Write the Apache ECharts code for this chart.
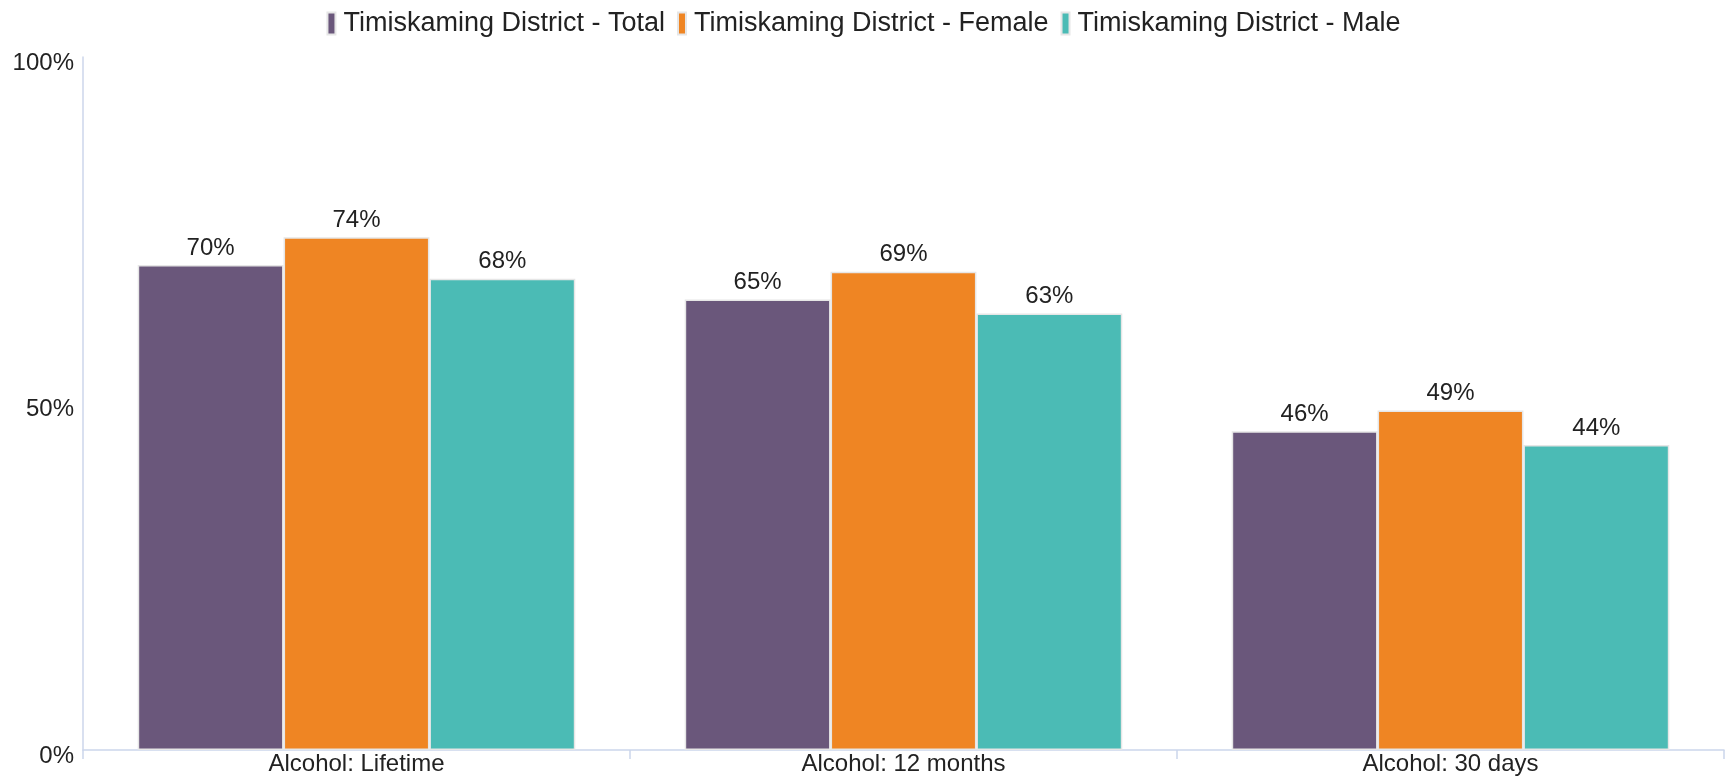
<!DOCTYPE html>
<html>
<head>
<meta charset="utf-8">
<style>
  html, body { margin: 0; padding: 0; background: #fff; }
  #chart { width: 1727px; height: 776px; }
</style>
<script src="https://cdn.jsdelivr.net/npm/echarts@6/dist/echarts.min.js"></script>
</head>
<body>
<div id="chart"></div>
<script>
var categories = ['Alcohol: Lifetime', 'Alcohol: 12 months', 'Alcohol: 30 days'];
var seriesNames = ['Timiskaming District - Total', 'Timiskaming District - Female', 'Timiskaming District - Male'];
var totalValues = [70, 65, 46];
var femaleValues = [74, 69, 49];
var maleValues = [68, 63, 44];
var yTicks = [0, 50, 100];

var colors = ['#6a577b', '#ef8523', '#4bbbb5'];
var font = 'Liberation Sans, Arial, sans-serif';

function makeSeries(name, data, color) {
  return {
    name: name,
    type: 'bar',
    data: data,
    barGap: '0%',
    barCategoryGap: '20%',
    itemStyle: { color: color, borderColor: '#e6e6e6', borderWidth: 1.5 },
    label: {
      show: true,
      position: 'top',
      distance: 5,
      formatter: '{c}%',
      color: '#222',
      fontSize: 24,
      fontFamily: font
    }
  };
}

var chart = echarts.init(document.getElementById('chart'));
chart.setOption({
  animation: false,
  color: colors,
  legend: {
    data: seriesNames,
    top: 5,
    left: 'center',
    itemWidth: 8,
    itemHeight: 22,
    itemGap: 12,
    icon: 'rect',
    textStyle: { fontSize: 27, fontFamily: font, color: '#222', padding: [0, 0, 0, 3] }
  },
  grid: { left: 83, right: 3, top: 57, bottom: 24 },
  xAxis: {
    type: 'category',
    data: categories,
    axisLine: { lineStyle: { color: '#ccd6eb', width: 1.5 } },
    axisTick: { show: true, length: 9, lineStyle: { color: '#ccd6eb', width: 1.5 } },
    axisLabel: { fontSize: 24, fontFamily: font, color: '#222', margin: 2 }
  },
  yAxis: {
    type: 'value',
    min: yTicks[0],
    max: yTicks[yTicks.length - 1],
    interval: yTicks[1] - yTicks[0],
    axisLine: { show: true, lineStyle: { color: '#ccd6eb', width: 1.5 } },
    axisTick: { show: false },
    splitLine: { show: false },
    axisLabel: { formatter: '{value}%', fontSize: 24, fontFamily: font, color: '#222', margin: 9, verticalAlign: 'top', lineHeight: 12 }
  },
  series: [
    makeSeries(seriesNames[0], totalValues, colors[0]),
    makeSeries(seriesNames[1], femaleValues, colors[1]),
    makeSeries(seriesNames[2], maleValues, colors[2])
  ]
});
</script>
</body>
</html>
